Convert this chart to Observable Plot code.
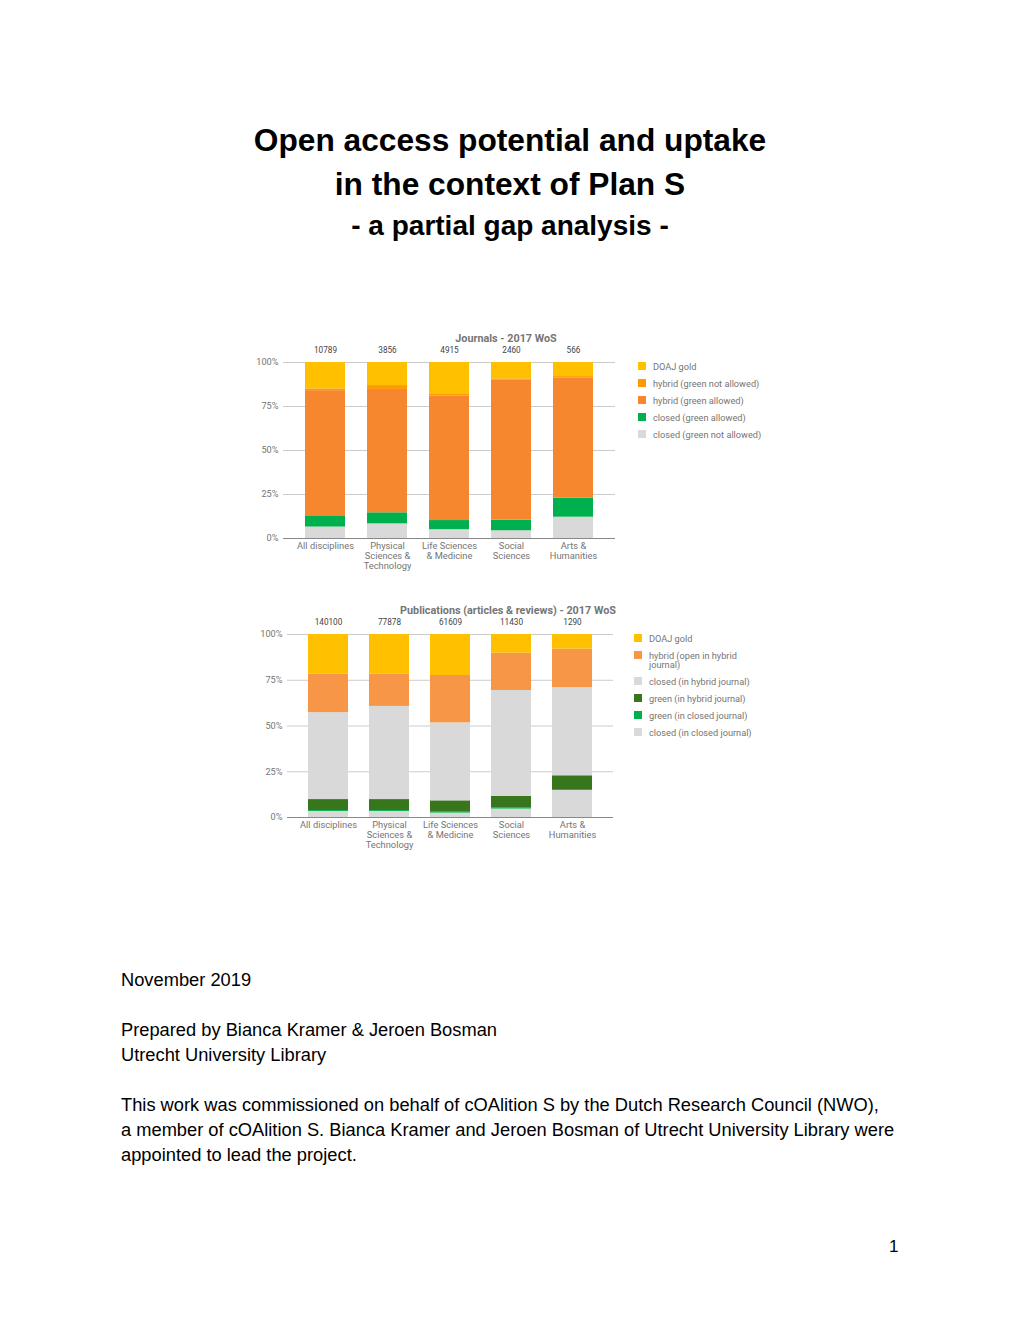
<!DOCTYPE html>
<html>
<head>
<meta charset="utf-8">
<script src="https://cdn.jsdelivr.net/npm/d3@7"></script>
<script src="https://cdn.jsdelivr.net/npm/@observablehq/plot@0.6"></script>
<style>
  html, body { margin: 0; padding: 0; background: #fff; }
  body { width: 1020px; height: 1320px; position: relative; overflow: hidden; font-family: "Liberation Sans", Arial, sans-serif; color: #000; }
  .abs { position: absolute; white-space: nowrap; }
  .title { left: 0; width: 1020px; text-align: center; font-weight: bold; }
  .ctitle { font-family: Roboto, sans-serif; font-weight: bold; font-size: 10.8px; color: #757575; transform: translateX(-50%); }
  .leg { font-family: Roboto, sans-serif; font-size: 9.2px; color: #757575; line-height: 9px; }
  .sw { position: absolute; width: 8px; height: 8px; }
  .body { left: 121px; font-size: 18.3px; }
  svg { overflow: visible; }
</style>
</head>
<body>
<div class="abs title" style="top:122px;font-size:31.7px;">Open access potential and uptake</div>
<div class="abs title" style="top:166px;font-size:31.7px;">in the context of Plan S</div>
<div class="abs title" style="top:210px;font-size:28px;">- a partial gap analysis -</div>

<div class="abs ctitle" style="left:506px;top:332px;">Journals - 2017 WoS</div>
<div id="chart1" class="abs" style="left:240px;top:330px;"></div>
<div id="legend1" class="abs" style="left:638px;top:362px;"></div>

<div class="abs ctitle" style="left:508px;top:604px;">Publications (articles &amp; reviews) - 2017 WoS</div>
<div id="chart2" class="abs" style="left:240px;top:600px;"></div>
<div id="legend2" class="abs" style="left:634px;top:634px;"></div>

<div class="abs body" style="top:969px;">November 2019</div>
<div class="abs body" style="top:1019px;">Prepared by Bianca Kramer &amp; Jeroen Bosman</div>
<div class="abs body" style="top:1044px;">Utrecht University Library</div>
<div class="abs body" style="top:1094px;">This work was commissioned on behalf of cOAlition S by the Dutch Research Council (NWO),</div>
<div class="abs body" style="top:1119px;">a member of cOAlition S. Bianca Kramer and Jeroen Bosman of Utrecht University Library were</div>
<div class="abs body" style="top:1144px;">appointed to lead the project.</div>
<div class="abs" style="left:889px;top:1237px;font-size:17px;">1</div>

<script>
// ---------- DATA ----------
const categories = ["All disciplines", "Physical\nSciences &\nTechnology", "Life Sciences\n& Medicine", "Social\nSciences", "Arts &\nHumanities"];

// Journals - 2017 WoS (percent), series listed bottom to top
const journalTotals = [10789, 3856, 4915, 2460, 566];
const journalSeries = ["closed (green not allowed)", "closed (green allowed)", "hybrid (green allowed)", "hybrid (green not allowed)", "DOAJ gold"];
const jClosedNotAllowed = [6.5, 8.3, 5.0, 4.4, 12.1];
const jClosedAllowed    = [6.0, 6.3, 5.2, 6.0, 10.8];
const jHybridAllowed    = [71.5, 70.1, 70.7, 79.5, 68.2];
const jHybridNotAllowed = [1.0, 2.2, 1.3, 0.8, 0.9];
const jDoajGold         = [15.0, 13.1, 17.8, 9.3, 8.0];
const journalColors = ["#D9D9D9", "#00B04F", "#F6872F", "#FF9900", "#FFC000"];

// Publications (articles & reviews) - 2017 WoS (percent), bottom to top
const pubTotals = [140100, 77878, 61609, 11430, 1290];
const pubSeries = ["closed (in closed journal)", "green (in closed journal)", "green (in hybrid journal)", "closed (in hybrid journal)", "hybrid (open in hybrid journal)", "DOAJ gold"];
const pClosedInClosed = [3.3, 3.3, 2.4, 4.6, 14.8];
const pGreenInClosed  = [0.5, 0.5, 0.5, 0.5, 0.5];
const pGreenInHybrid  = [6.0, 6.0, 6.2, 6.4, 7.5];
const pClosedInHybrid = [47.5, 50.9, 42.6, 57.9, 48.2];
const pHybridOpen     = [21.0, 17.6, 25.9, 20.4, 21.0];
const pDoajGold       = [21.7, 21.7, 22.4, 10.2, 8.0];
const pubColors = ["#D9D9D9", "#00B04F", "#38761D", "#D9D9D9", "#F79646", "#FFC000"];

const yTicks = [0, 25, 50, 75, 100];

// legend order (top to bottom as displayed)
const legend1Labels = ["DOAJ gold", "hybrid (green not allowed)", "hybrid (green allowed)", "closed (green allowed)", "closed (green not allowed)"];
const legend1Colors = ["#FFC000", "#FF9900", "#F6872F", "#00B04F", "#D9D9D9"];
const legend2Labels = ["DOAJ gold", "hybrid (open in hybrid\njournal)", "closed (in hybrid journal)", "green (in hybrid journal)", "green (in closed journal)", "closed (in closed journal)"];
const legend2Colors = ["#FFC000", "#F79646", "#D9D9D9", "#38761D", "#00B04F", "#D9D9D9"];

// ---------- BUILD ----------
function rows(seriesNames, seriesValues) {
  const out = [];
  categories.forEach((c, i) => {
    seriesNames.forEach((s, k) => out.push({cat: c, series: s, value: seriesValues[k][i]}));
  });
  return out;
}

function chart({data, series, colors, totals, width, height, marginLeft, marginRight, marginTop, marginBottom, padding}) {
  const totalsData = categories.map((c, i) => ({cat: c, total: totals[i]}));
  return Plot.plot({
    width, height, marginLeft, marginRight, marginTop, marginBottom,
    style: {fontFamily: "Roboto, sans-serif", fontSize: "9.3px", color: "#757575", background: "transparent"},
    x: {domain: categories, padding, label: null, round: false},
    y: {domain: [0, 100], label: null, ticks: yTicks},
    color: {domain: series, range: colors},
    marks: [
      Plot.gridY(yTicks, {stroke: "#cccccc", strokeOpacity: 1, strokeWidth: 1}),
      Plot.axisY(yTicks, {tickSize: 0, tickPadding: 5, tickFormat: d => d + "%", fill: "#757575", fontSize: 9.2}),
      Plot.axisX({tickSize: 0, tickPadding: 4, fill: "#757575", fontSize: 9.3, lineHeight: 1.05}),
      Plot.barY(data, Plot.stackY({order: null}, {x: "cat", y: "value", z: "series", fill: "series"})),
      Plot.ruleY([0], {stroke: "#888888", strokeWidth: 1}),
      Plot.text(totalsData, {x: "cat", y: () => 100, text: d => String(d.total), dy: -12, fill: "#444444", fontSize: 8.2})
    ]
  });
}

const jData = rows(journalSeries, [jClosedNotAllowed, jClosedAllowed, jHybridAllowed, jHybridNotAllowed, jDoajGold]);
document.getElementById("chart1").appendChild(chart({
  data: jData, series: journalSeries, colors: journalColors, totals: journalTotals,
  width: 390, height: 248, marginLeft: 43, marginRight: 15, marginTop: 32, marginBottom: 40, padding: 0.355
}));

const pData = rows(pubSeries, [pClosedInClosed, pGreenInClosed, pGreenInHybrid, pClosedInHybrid, pHybridOpen, pDoajGold]);
document.getElementById("chart2").appendChild(chart({
  data: pData, series: pubSeries, colors: pubColors, totals: pubTotals,
  width: 390, height: 257, marginLeft: 47, marginRight: 17, marginTop: 34, marginBottom: 40, padding: 0.344
}));

function legend(el, labels, colors, tops) {
  labels.forEach((l, i) => {
    const sw = document.createElement("div");
    sw.className = "sw";
    sw.style.left = "0px"; sw.style.top = tops[i] + "px"; sw.style.background = colors[i];
    el.appendChild(sw);
    const t = document.createElement("div");
    t.className = "abs leg";
    t.style.left = "15px"; t.style.top = (tops[i] - 0.5) + "px";
    t.innerHTML = l.split("\n").join("<br>");
    el.appendChild(t);
  });
}
legend(document.getElementById("legend1"), legend1Labels, legend1Colors, [0, 17, 34, 51, 68]);
legend(document.getElementById("legend2"), legend2Labels, legend2Colors, [0, 17, 43, 60, 77, 94]);
</script>
</body>
</html>
